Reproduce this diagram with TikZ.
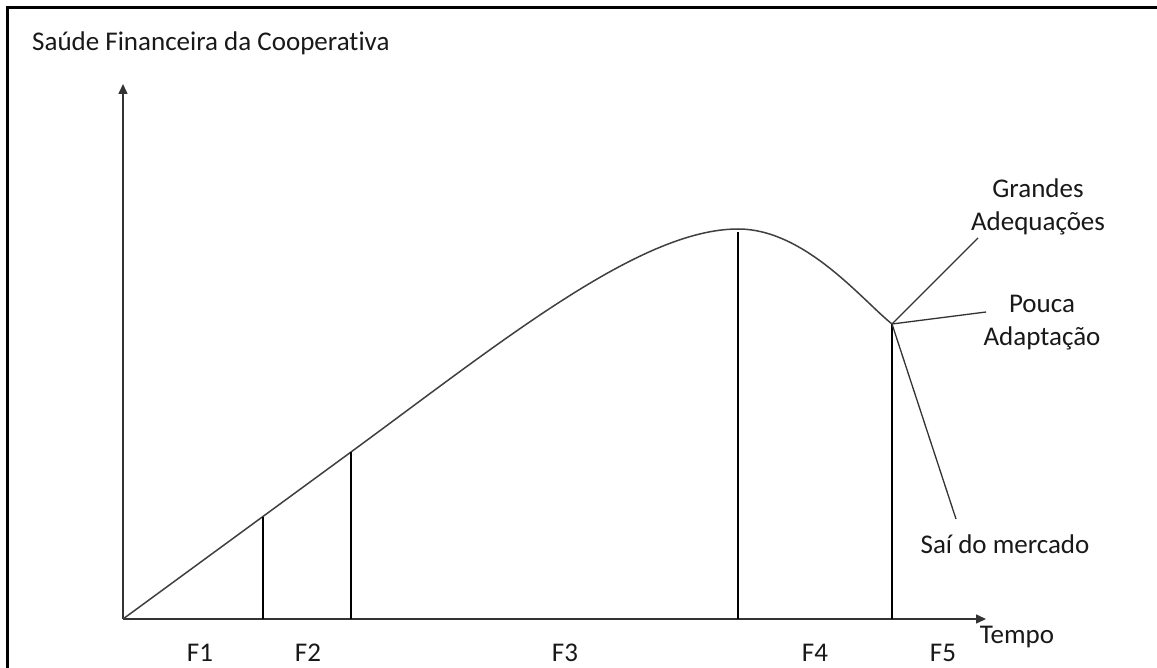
\documentclass[tikz,border=0pt]{standalone}
\usepackage{fontspec}
\setmainfont{Carlito}[RawFeature=-liga]
\usetikzlibrary{arrows.meta}
\begin{document}
\begin{tikzpicture}[x=1pt,y=-1pt,
  lbl/.style={inner sep=0pt, font=\fontsize{27}{33}\selectfont, text=black!90},
  axis/.style={line width=1.5pt, draw=black!80, -{Triangle[length=10pt,width=9pt]}},
  phase/.style={line width=2.4pt, draw=black},
  curve/.style={line width=1.5pt, draw=black!75},
  lead/.style={line width=1.3pt, draw=black!80}]
\useasboundingbox (0,0) rectangle (1157,668);
\fill[white] (0,0) rectangle (1157,668);
% frame
\draw[line width=2.2pt] (7.5,668) -- (7.5,7.5) -- (1157,7.5);
% key points
\coordinate (O) at (123,619);
\coordinate (Ytop) at (123,84);
\coordinate (Xend) at (986,619);
\coordinate (P1) at (263,517);
\coordinate (P2) at (351,452);
\coordinate (P3) at (738,229);
\coordinate (P4) at (892,324);
\coordinate (B1) at (263,619);
\coordinate (B2) at (351,619);
\coordinate (B3) at (738,619);
\coordinate (B4) at (892,619);
% axes
\draw[axis] (O) -- (Ytop);
\draw[axis] (O) -- (Xend);
% curve
\draw[curve] (O) -- (P2) .. controls (501,342) and (640,229) .. (P3)
  .. controls (805,229) and (862,300) .. (P4);
% phase lines
\draw[phase] (B1) -- (P1);
\draw[phase] (B2) -- (P2);
\draw[phase] (B3) -- (738,232);
\draw[phase] (B4) -- (P4);
% labels
\node[lbl, anchor=west] (title) at (32,43) {Saúde Financeira da Cooperativa};
\node[lbl, align=center] (ga) at (1038,207) {Grandes\\Adequações};
\node[lbl, align=center] (pa) at (1042,323) {Pouca\\Adaptação};
\node[lbl] (sm) at (1005,544) {Saí do mercado};
\coordinate (gaend) at (978,238);
\coordinate (paend) at (986,312);
\coordinate (smend) at (956,519);
\draw[lead] (P4) -- (gaend);
\draw[lead] (P4) -- (paend);
\draw[lead] (P4) -- (smend);
\node[lbl] (f1) at (200,653) {F1};
\node[lbl] (f2) at (308,653) {F2};
\node[lbl] (f3) at (565,653) {F3};
\node[lbl] (f4) at (815,653) {F4};
\node[lbl] (f5) at (943,653) {F5};
\node[lbl] (tempo) at (1017,637) {Tempo};
\end{tikzpicture}
\end{document}
